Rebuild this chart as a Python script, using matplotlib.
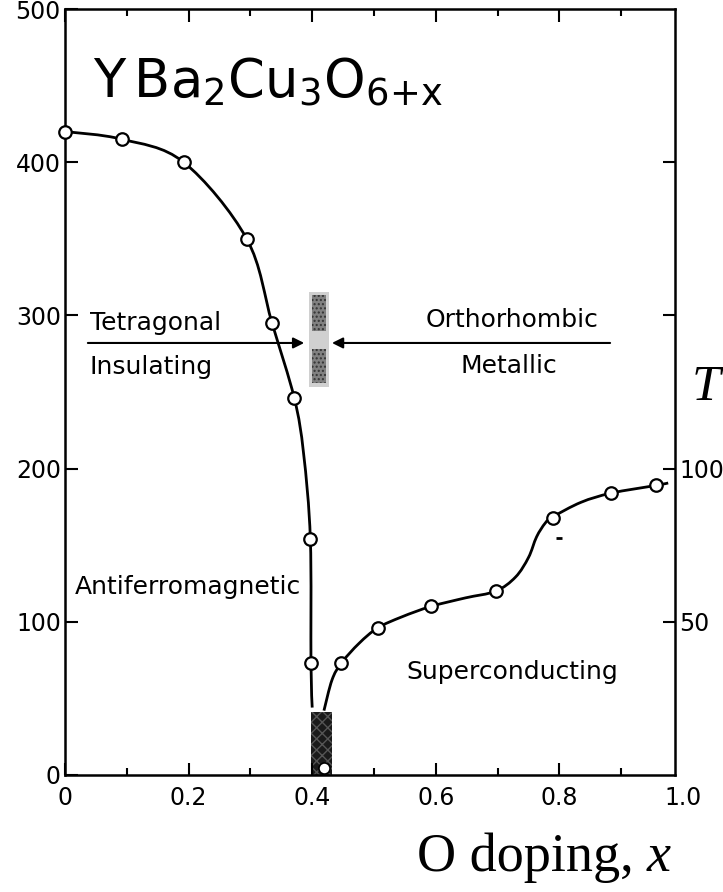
import numpy as np
import matplotlib
matplotlib.use('Agg')
import matplotlib.pyplot as plt
from matplotlib.patches import Rectangle, PathPatch
from matplotlib.path import Path

# Neel temperature points (left axis, K)
neel_x = [0.0, 0.092, 0.192, 0.294, 0.335, 0.371, 0.397, 0.398]
neel_t = [420, 415, 400, 350, 295, 246, 154, 73]
# line traced through the Neel points
neel_line_x = [0.0, 0.092, 0.192, 0.294, 0.335, 0.371, 0.386, 0.397,
               0.398, 0.400]
neel_line_t = [420, 415, 400, 350, 295, 246, 210, 154, 73, 44]

# superconducting Tc points (right axis, K)
tc_x = [0.447, 0.506, 0.592, 0.697, 0.789, 0.884, 0.956]
tc_k = [36.5, 48, 55, 60, 84, 92, 94.5]
tc_line_x = [0.419, 0.432, 0.447, 0.476, 0.506, 0.545, 0.592, 0.648, 0.697,
             0.729, 0.750, 0.763, 0.777, 0.789, 0.835, 0.884, 0.956, 0.976]
tc_line_k = [21, 31, 36.5, 43, 48, 51.6, 55, 57.8, 60, 64.6, 71, 77.7, 82.2,
             84.2, 89, 92, 94.5, 95.3]

# point at the bottom of the dark band, stray dot
bottom_x, bottom_t = [0.419], [4.6]
stray_x, stray_t = [0.80], [155]

left_ticks = [0, 100, 200, 300, 400, 500]
right_ticks = [50, 100, 150, 200]
right_labels = ['50', '100', '', '']
x_major = [0, 0.2, 0.4, 0.6, 0.8]
x_major_labels = ['0', '0.2', '0.4', '0.6', '0.8']
x_minor = [0.1, 0.3, 0.5, 0.7, 0.9]


def smooth_line(axis, xs, ys, **kw):
    # catmull-rom through the traced points, drawn as bezier path in pixels
    pts = axis.transData.transform(np.column_stack([xs, ys]))
    p = np.vstack([pts[0], pts, pts[-1]])
    verts = [pts[0]]
    codes = [Path.MOVETO]
    for i in range(1, len(p) - 2):
        c1 = p[i] + (p[i + 1] - p[i - 1]) / 6.0
        c2 = p[i + 1] - (p[i + 2] - p[i]) / 6.0
        verts += [c1, c2, p[i + 1]]
        codes += [Path.CURVE4] * 3
    patch = PathPatch(Path(verts, codes), fill=False, transform=None, **kw)
    axis.add_artist(patch)


fig = plt.figure(figsize=(7.23, 8.92), dpi=100)
ax = fig.add_axes([0.0899, 0.1312, 0.8437, 0.8587])
ax.set_xlim(0, 0.987)
ax.set_ylim(0, 500)

for s in ax.spines.values():
    s.set_linewidth(1.8)

ax.set_yticks(left_ticks)
ax.set_yticklabels([str(v) for v in left_ticks])
ax.set_xticks(x_major)
ax.set_xticklabels(x_major_labels)
ax.set_xticks(x_minor, minor=True)
ax.tick_params(which='both', direction='in', top=True, right=False, width=1.5,
               labelsize=17)
ax.tick_params(which='major', length=9)
ax.tick_params(which='minor', length=5)
ax.tick_params(axis='x', pad=8)
ax.tick_params(axis='y', pad=3)
ax.text(1.0, -0.014, '1.0', transform=ax.get_xaxis_transform(), ha='center',
        va='top', fontsize=17)

ax2 = ax.twinx()
ax2.set_ylim(0, 250)
ax2.set_yticks(right_ticks)
ax2.set_yticklabels(right_labels)
ax2.tick_params(direction='in', length=9, width=1.5, labelsize=17, pad=3)
for s in ax2.spines.values():
    s.set_visible(False)

# shaded bands
ax.add_patch(Rectangle((0.395, 253), 0.032, 62, facecolor='#d0d0d0',
                       edgecolor='none', zorder=1))
ax.add_patch(Rectangle((0.400, 290), 0.022, 23, facecolor='#808080',
                       edgecolor='#333333', hatch='....', lw=0, zorder=1))
ax.add_patch(Rectangle((0.400, 256), 0.022, 22, facecolor='#808080',
                       edgecolor='#333333', hatch='....', lw=0, zorder=1))
ax.add_patch(Rectangle((0.398, 0), 0.034, 41, facecolor='#1a1a1a',
                       edgecolor='#555555', hatch='xxx', lw=0, zorder=1))

smooth_line(ax, neel_line_x, neel_line_t, lw=2, edgecolor='k', zorder=3)
ax.plot(neel_x, neel_t, 'o', ms=9, mfc='white', mec='k', mew=1.6, zorder=4,
        clip_on=False)
ax.plot(bottom_x, bottom_t, 'o', ms=8, mfc='white', mec='k', mew=1.2, zorder=4)
ax.plot(stray_x, stray_t, marker='_', ms=5, mew=2, color='k', zorder=4)

smooth_line(ax2, tc_line_x, tc_line_k, lw=2, edgecolor='k', zorder=3)
ax2.plot(tc_x, tc_k, 'o', ms=9, mfc='white', mec='k', mew=1.6, zorder=4)

# structural transition line and arrows
ax.annotate('', xy=(0.387, 282), xytext=(0.037, 282),
            arrowprops=dict(arrowstyle='-|>', color='k', lw=1.5,
                            mutation_scale=16, shrinkA=0, shrinkB=0))
ax.annotate('', xy=(0.432, 282), xytext=(0.882, 282),
            arrowprops=dict(arrowstyle='-|>', color='k', lw=1.5,
                            mutation_scale=16, shrinkA=0, shrinkB=0))

ax.text(0.040, 295, 'Tetragonal', fontsize=18, ha='left', va='center')
ax.text(0.040, 266, 'Insulating', fontsize=18, ha='left', va='center')
ax.text(0.723, 297, 'Orthorhombic', fontsize=18, ha='center', va='center')
ax.text(0.719, 267, 'Metallic', fontsize=18, ha='center', va='center')
ax.text(0.016, 123, 'Antiferromagnetic', fontsize=18, ha='left', va='center')
ax.text(0.552, 67, 'Superconducting', fontsize=18, ha='left', va='center')

ax.text(0.045, 442, r'$\mathregular{Y\,Ba_2Cu_3O_{6{+}x}}$', fontsize=38,
        ha='left', va='baseline')

fig.text(0.895, 0.0235, 'O doping, ', fontsize=39, family='Liberation Serif',
         ha='right', va='baseline')
fig.text(0.895, 0.0235, 'x', fontsize=39, family='Liberation Serif',
         style='italic', ha='left', va='baseline')
fig.text(0.957, 0.5516, 'T', fontsize=37, family='Liberation Serif',
         style='italic', ha='left', va='baseline')

fig.savefig('out.png', dpi=100, facecolor='white')
